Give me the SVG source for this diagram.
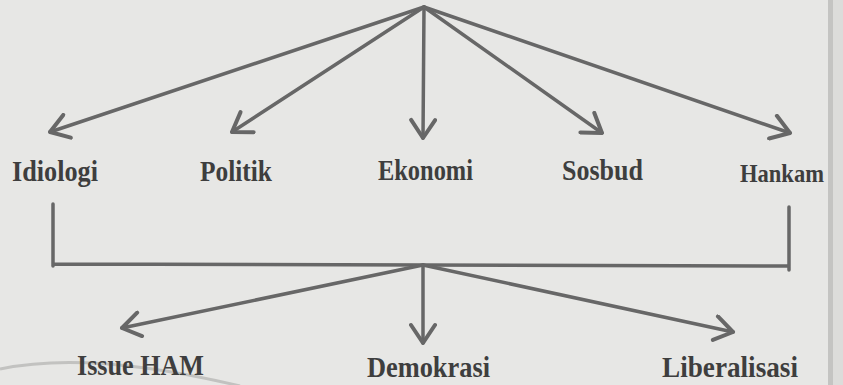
<svg xmlns="http://www.w3.org/2000/svg" width="843" height="385" viewBox="0 0 843 385">
  <style>
    .bg { fill: #e7e7e5; }
    .lbl { font-family: "Liberation Serif", "DejaVu Serif", serif; font-weight: bold; font-size: 29px; fill: #3e3e3e; }
    .con { fill: none; stroke: #676767; stroke-width: 3.5; stroke-linecap: round; stroke-linejoin: round; }
  </style>
  <defs>
    <marker id="arr" viewBox="-22 -14 26 28" refX="0" refY="0" markerWidth="26" markerHeight="28" markerUnits="userSpaceOnUse" orient="auto">
      <path d="M-18,-12 L0,0 L-18,12" fill="none" stroke="#676767" stroke-width="4" stroke-linecap="round" stroke-linejoin="round"/>
    </marker>
  </defs>
  <rect class="bg" x="0" y="0" width="843" height="385"/>
  <path d="M0,369 Q90,350 240,386" fill="none" stroke="#c2c2c0" stroke-width="3"/>

  <g id="connectors">
    <line class="con" x1="424" y1="7" x2="50" y2="132" marker-end="url(#arr)"/>
    <line class="con" x1="424" y1="7" x2="232" y2="132" marker-end="url(#arr)"/>
    <line class="con" x1="424" y1="7" x2="423" y2="138" marker-end="url(#arr)"/>
    <line class="con" x1="424" y1="7" x2="602" y2="133" marker-end="url(#arr)"/>
    <line class="con" x1="424" y1="7" x2="790" y2="133" marker-end="url(#arr)"/>
    <path class="con" d="M53,204 V266 M789,207 V270 M53,264 L789,266"/>
    <line class="con" x1="423" y1="265" x2="122" y2="328" marker-end="url(#arr)"/>
    <line class="con" x1="423" y1="265" x2="423" y2="343" marker-end="url(#arr)"/>
    <line class="con" x1="423" y1="265" x2="733" y2="332" marker-end="url(#arr)"/>
  </g>

  <g id="idiologi"><text class="lbl" x="12" y="181" textLength="86" lengthAdjust="spacingAndGlyphs">Idiologi</text></g>
  <g id="politik"><text class="lbl" x="200" y="181" textLength="72" lengthAdjust="spacingAndGlyphs">Politik</text></g>
  <g id="ekonomi"><text class="lbl" x="378" y="180" textLength="95" lengthAdjust="spacingAndGlyphs">Ekonomi</text></g>
  <g id="sosbud"><text class="lbl" x="562" y="180" textLength="81" lengthAdjust="spacingAndGlyphs">Sosbud</text></g>
  <g id="hankam"><text class="lbl" x="740" y="182" font-size="26" textLength="84" lengthAdjust="spacingAndGlyphs" style="font-size:26px">Hankam</text></g>
  <g id="issue-ham"><text class="lbl" x="77" y="375" textLength="127" lengthAdjust="spacingAndGlyphs">Issue HAM</text></g>
  <g id="demokrasi"><text class="lbl" x="367" y="377" textLength="123" lengthAdjust="spacingAndGlyphs">Demokrasi</text></g>
  <g id="liberalisasi"><text class="lbl" x="662" y="377" textLength="136" lengthAdjust="spacingAndGlyphs">Liberalisasi</text></g>

  <rect x="828" y="0" width="5" height="385" fill="#c4c4c2"/>
  <rect x="833" y="0" width="10" height="385" fill="#dcdcda"/>
</svg>
